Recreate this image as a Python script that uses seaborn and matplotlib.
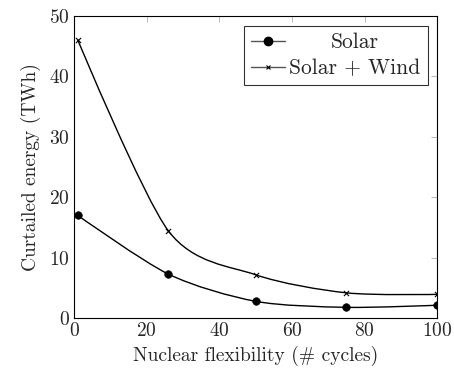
import numpy as np
import pandas as pd
import matplotlib
matplotlib.use("Agg")
import matplotlib.pyplot as plt
import seaborn as sns
from matplotlib.path import Path
from matplotlib.patches import PathPatch
from matplotlib.lines import Line2D
from matplotlib.transforms import Affine2D

cycles = [1, 26, 50, 75, 100]
solar = [17.0, 7.25, 2.75, 1.75, 2.1]
solar_wind = [46.1, 14.4, 7.15, 4.15, 3.9]
series_names = ["Solar", "Solar + Wind"]

df = pd.concat([
    pd.DataFrame({"cycles": cycles, "energy": solar, "series": "Solar"}),
    pd.DataFrame({"cycles": cycles, "energy": solar_wind, "series": "Solar + Wind"}),
])

sns.set_theme(style="white")
plt.rcParams["font.family"] = ["cmr10", "DejaVu Serif"]
plt.rcParams["mathtext.fontset"] = "cm"
plt.rcParams["axes.formatter.use_mathtext"] = True
plt.rcParams["axes.unicode_minus"] = False

fig = plt.figure(figsize=(4.54, 3.74), dpi=100)
ax = fig.add_axes([0.163, 0.150, 0.800, 0.807])


def smooth_path(xs, ys, k=0.14):
    pts = np.column_stack([xs, ys]).astype(float)
    n = len(pts)
    verts = [pts[0]]
    codes = [Path.MOVETO]
    for i in range(n - 1):
        p1 = pts[i]
        p2 = pts[i + 1]
        c1 = p1 + (p2 - pts[i - 1]) * k if i > 0 else p1
        c2 = p2 - (pts[i + 2] - p1) * k if i + 2 < n else p2
        verts += [c1, c2, p2]
        codes += [Path.CURVE4, Path.CURVE4, Path.CURVE4]
    return Path(verts, codes)


for vals in (solar, solar_wind):
    ax.add_patch(PathPatch(smooth_path(cycles, vals), facecolor="none",
                           edgecolor="black", lw=1.0, zorder=2))

sns.scatterplot(data=df[df.series == "Solar"], x="cycles", y="energy",
                marker="o", color="black", s=30, edgecolor="black", ax=ax,
                zorder=3, legend=False)
sns.scatterplot(data=df[df.series == "Solar + Wind"], x="cycles", y="energy",
                marker="x", color="black", s=14, linewidth=0.8, ax=ax,
                zorder=3, legend=False)

FS = 14
ax.set_xlim(0, 100)
ax.set_ylim(0, 50)
ax.set_xticks([0, 20, 40, 60, 80, 100])
ax.set_yticks([0, 10, 20, 30, 40, 50])
ax.set_xlabel("Nuclear flexibility (# cycles)", fontsize=FS, labelpad=4)
ax.set_ylabel("Curtailed energy (TWh)", fontsize=FS, labelpad=6)
ax.tick_params(direction="in", length=4, width=0.6, color="#aaaaaa",
               top=True, right=True, labelsize=FS, pad=3)
for sp in ax.spines.values():
    sp.set_color("black")
    sp.set_linewidth(0.8)

handles = [
    Line2D([], [], color="#555555", lw=1.0, marker="o", markersize=6,
           markerfacecolor="black", markeredgecolor="black"),
    Line2D([], [], color="#555555", lw=1.0, marker="x", markersize=3.5,
           markeredgecolor="black", markeredgewidth=0.8),
]
leg = ax.legend(handles, series_names, loc="upper right", fontsize=15.5,
                frameon=True, fancybox=False, edgecolor="black",
                handlelength=1.55, handletextpad=0.2, borderpad=0.33,
                labelspacing=0.3, borderaxespad=0.45)
leg.get_frame().set_linewidth(0.8)

# centre the shorter legend entry like pgfplots does
fig.canvas.draw()
r = fig.canvas.get_renderer()
texts = leg.get_texts()
w0 = texts[0].get_window_extent(r).width
w1 = texts[1].get_window_extent(r).width
dx = (w1 - w0) / 2.0
texts[0].set_transform(texts[0].get_transform() + Affine2D().translate(dx, 0))

fig.savefig("out.png", dpi=100)
